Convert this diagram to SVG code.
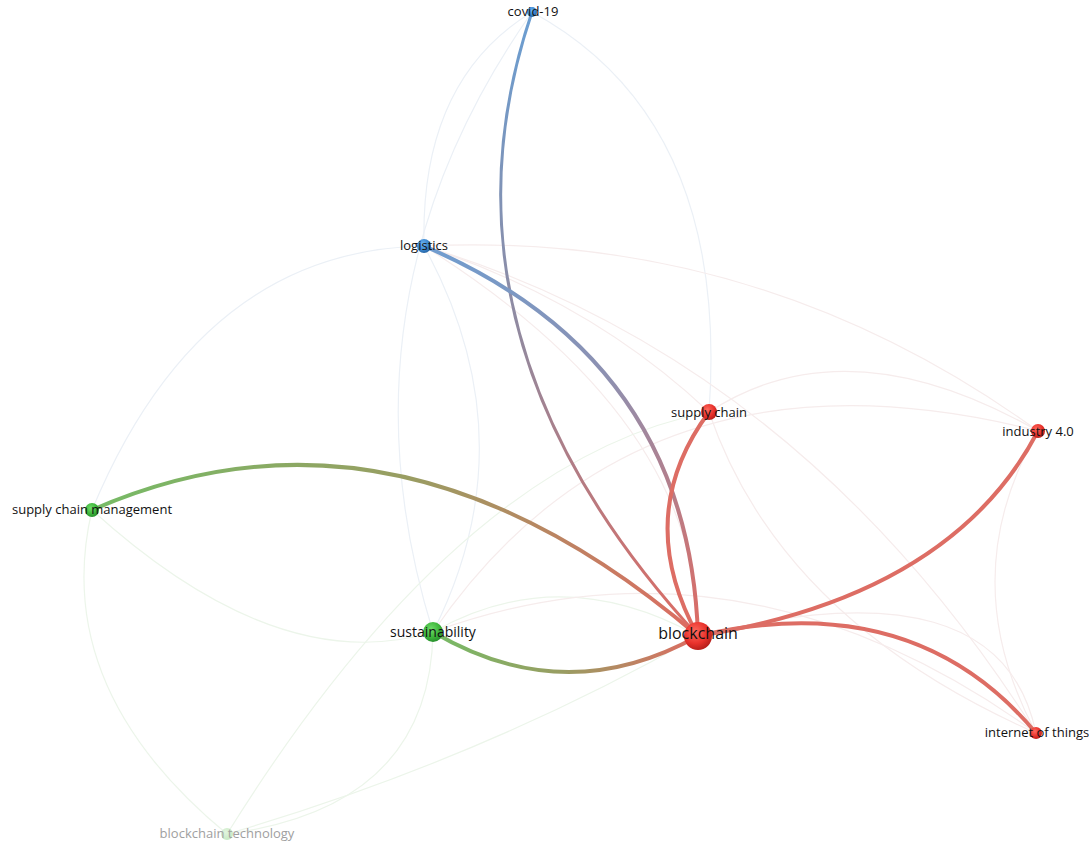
<svg xmlns="http://www.w3.org/2000/svg" width="1089" height="843" viewBox="0 0 1089 843">
<style>
.lbl{font-family:"Open Sans","Liberation Sans",sans-serif;font-size:13px;fill:#111;text-anchor:middle}
.faint{fill:none;stroke-width:1.2}
.fr{stroke:#f6ecec}
.fg{stroke:#ecf5ea}
.fb{stroke:#ebf0f6}
.strong{fill:none;stroke-linecap:round}
</style>
<defs>
<radialGradient id="nr" cx="0.4" cy="0.35" r="0.7"><stop offset="0" stop-color="#ff6a5e"/><stop offset="0.6" stop-color="#e8322c"/><stop offset="1" stop-color="#b01c18"/></radialGradient>
<radialGradient id="ng" cx="0.4" cy="0.35" r="0.7"><stop offset="0" stop-color="#6fdc6a"/><stop offset="0.6" stop-color="#3db53a"/><stop offset="1" stop-color="#23892a"/></radialGradient>
<radialGradient id="nb" cx="0.4" cy="0.35" r="0.7"><stop offset="0" stop-color="#6fb4f0"/><stop offset="0.6" stop-color="#3a86cf"/><stop offset="1" stop-color="#22609e"/></radialGradient>
<radialGradient id="nlg" cx="0.4" cy="0.35" r="0.7"><stop offset="0" stop-color="#e2f5de"/><stop offset="1" stop-color="#c6e8c2"/></radialGradient>
<linearGradient id="gCov" gradientUnits="userSpaceOnUse" x1="532" y1="12" x2="698" y2="636"><stop offset="0" stop-color="#6a9ed2"/><stop offset="0.5" stop-color="#94889c"/><stop offset="1" stop-color="#de6b62"/></linearGradient>
<linearGradient id="gLog" gradientUnits="userSpaceOnUse" x1="424" y1="246" x2="698" y2="636"><stop offset="0" stop-color="#6f9dd0"/><stop offset="0.45" stop-color="#8e90b0"/><stop offset="1" stop-color="#de6b62"/></linearGradient>
<linearGradient id="gScm" gradientUnits="userSpaceOnUse" x1="92" y1="510" x2="698" y2="636"><stop offset="0" stop-color="#76bb66"/><stop offset="0.5" stop-color="#9a9c62"/><stop offset="1" stop-color="#de6b62"/></linearGradient>
<linearGradient id="gSus" gradientUnits="userSpaceOnUse" x1="433" y1="632" x2="698" y2="636"><stop offset="0" stop-color="#76bb66"/><stop offset="0.5" stop-color="#9a9c62"/><stop offset="1" stop-color="#de6b62"/></linearGradient>
</defs>
<rect width="1089" height="843" fill="#ffffff"/>
<g id="connectors">
<g id="faint-edges">
<path class="faint fb" d="M532,12 Q420,80 424,246"/>
<path class="faint fb" d="M532,12 Q730,120 709,412"/>
<path class="faint fb" d="M532,12 Q330,300 433,632"/>
<path class="faint fb" d="M424,246 Q200,250 92,510"/>
<path class="faint fb" d="M424,246 Q530,440 433,632"/>
<path class="faint fr" d="M424,246 Q590,300 709,412"/>
<path class="faint fr" d="M424,246 Q760,230 1038,431"/>
<path class="faint fr" d="M424,246 Q800,360 1036,733"/>
<path class="faint fr" d="M424,246 Q700,420 698,636"/>
<path class="faint fg" d="M92,510 Q278,679 433,632"/>
<path class="faint fg" d="M92,510 Q50,688 227,834"/>
<path class="faint fg" d="M433,632 Q430,807 227,834"/>
<path class="faint fg" d="M227,834 Q480,760 698,636"/>
<path class="faint fg" d="M227,834 Q460,460 709,412"/>
<path class="faint fg" d="M433,632 Q560,560 698,636"/>
<path class="faint fr" d="M709,412 Q847,322 1038,431"/>
<path class="faint fr" d="M433,632 Q640,330 1038,431"/>
<path class="faint fr" d="M433,632 Q740,520 1036,733"/>
<path class="faint fr" d="M1038,431 Q953,578 1036,733"/>
<path class="faint fr" d="M709,412 Q780,620 1036,733"/>
<path class="faint fr" d="M698,636 Q1000,560 1036,733"/>
</g>
<g id="strong-edges">
<path class="strong" stroke="url(#gCov)" stroke-width="3" d="M532,12 Q422,336 698,636"/>
<path class="strong" stroke="url(#gLog)" stroke-width="4" d="M424,246 Q689,359 698,636"/>
<path class="strong" stroke="#dd6d64" stroke-width="4" d="M709,412 Q632,516 698,636"/>
<path class="strong" stroke="#dd6d64" stroke-width="4" d="M1038,431 Q952,596 698,636"/>
<path class="strong" stroke="#dd6d64" stroke-width="4" d="M1036,733 Q913,586 698,636"/>
<path class="strong" stroke="url(#gScm)" stroke-width="4" d="M92,510 Q395,377 698,636"/>
<path class="strong" stroke="url(#gSus)" stroke-width="4" d="M433,632 Q565,710 698,636"/>
</g>
</g>
<g id="node-blockchain-technology"><circle cx="227" cy="834" r="6" fill="url(#nlg)"/><text class="lbl" x="227" y="838" style="fill:#a0a0a0">blockchain technology</text></g>
<g id="node-covid-19"><circle cx="532" cy="12" r="5" fill="url(#nb)"/><text class="lbl" x="533" y="16">covid-19</text></g>
<g id="node-logistics"><circle cx="424" cy="246" r="7" fill="url(#nb)"/><text class="lbl" x="424" y="250">logistics</text></g>
<g id="node-supply-chain"><circle cx="709" cy="412" r="8" fill="url(#nr)"/><text class="lbl" x="709" y="417">supply chain</text></g>
<g id="node-industry-4-0"><circle cx="1038" cy="431" r="7" fill="url(#nr)"/><text class="lbl" x="1038" y="436">industry 4.0</text></g>
<g id="node-supply-chain-management"><circle cx="92" cy="510" r="7" fill="url(#ng)"/><text class="lbl" x="92" y="514">supply chain management</text></g>
<g id="node-sustainability"><circle cx="433" cy="632" r="10" fill="url(#ng)"/><text class="lbl" x="433" y="637" style="font-size:14px">sustainability</text></g>
<g id="node-blockchain"><circle cx="698" cy="636" r="14" fill="url(#nr)"/><text class="lbl" x="698" y="639" style="font-size:16px">blockchain</text></g>
<g id="node-internet-of-things"><circle cx="1036" cy="733" r="6" fill="url(#nr)"/><text class="lbl" x="1037" y="737">internet of things</text></g>
</svg>
